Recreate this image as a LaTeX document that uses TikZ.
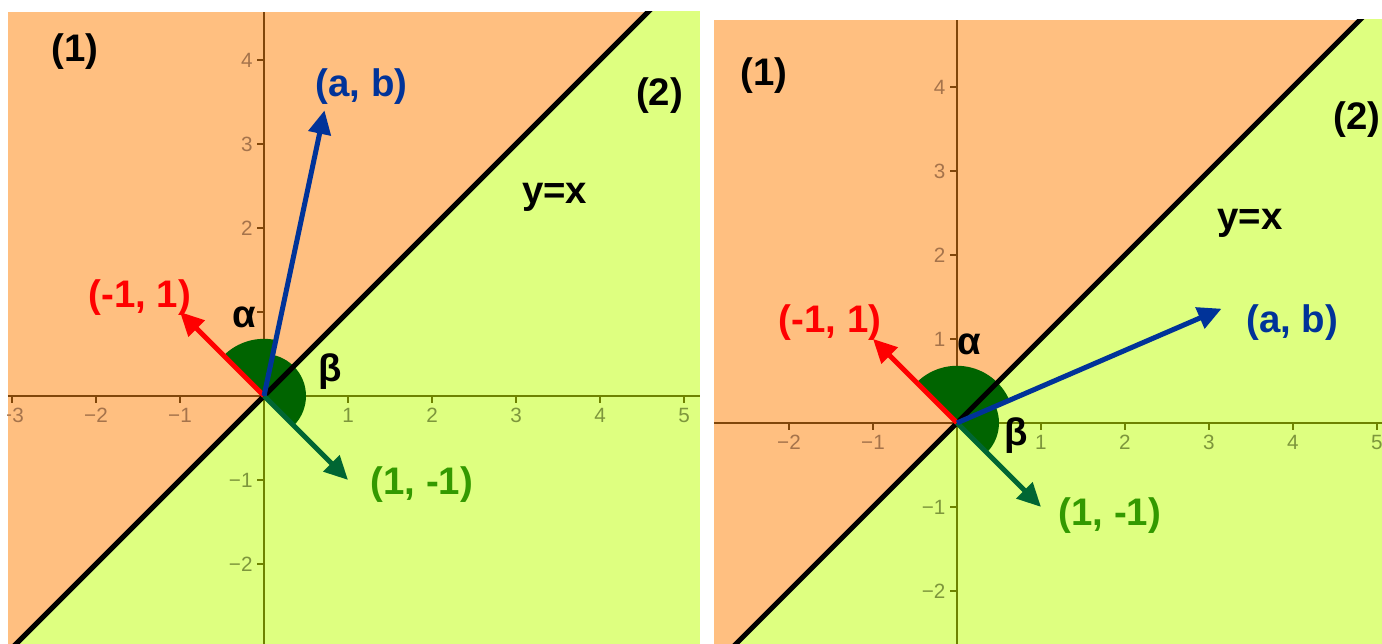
\documentclass[tikz,border=0pt]{standalone}
\usepackage{fontspec}
\setmainfont{Liberation Sans}
\usetikzlibrary{arrows.meta}

\definecolor{regionA}{RGB}{255,191,128}
\definecolor{regionB}{RGB}{222,255,128}
\definecolor{axisA}{RGB}{128,70,10}
\definecolor{axisB}{RGB}{110,130,0}
\definecolor{tickA}{RGB}{165,115,75}
\definecolor{tickB}{RGB}{125,150,60}
\definecolor{vecblue}{RGB}{0,51,153}
\definecolor{vecgreen}{RGB}{0,102,51}
\definecolor{lblgreen}{RGB}{51,153,0}
\definecolor{sectorgreen}{RGB}{0,100,0}

\tikzset{
  vec/.style={line width=1.7pt, -{Triangle[length=8pt,width=7.5pt]}},
  lbl/.style={font=\fontsize{13}{15}\selectfont\bfseries, inner sep=0pt},
  ticklbl/.style={font=\fontsize{7}{8}\selectfont, inner sep=0pt},
  sector/.style={fill=sectorgreen},
}

\begin{document}
\begin{tikzpicture}
    \useasboundingbox (-3.143,-2.952) rectangle (13.31,4.714);
    \fill[white] (-3.143,-2.952) rectangle (13.31,4.714);
    % (a) vector (a, b) in region (1)
    \begin{scope}
      \clip (-3.05,-2.96) rectangle (5.19,4.571);
      \fill[regionA] (-3.05,-2.96) rectangle (5.19,4.571);
      \fill[regionB] (-4,-4) -- (6,6) -- (6,-4) -- cycle;
      \draw[axisA, line width=0.6pt] (-3.05,0) -- (0,0) -- (0,4.571);
      \draw[axisB, line width=0.6pt] (5.19,0) -- (0,0) -- (0,-2.96);
      \foreach \x/\t in {-3/−3,-2/−2,-1/−1} {
        \draw[axisA] (\x,0) -- (\x,-0.08);
        \node[ticklbl, tickA] at (\x,-0.23) {\t};
      }
      \foreach \x in {1,...,5} {
        \draw[axisB] (\x,0) -- (\x,-0.08);
        \node[ticklbl, tickB] at (\x,-0.23) {\x};
      }
      \foreach \y in {1,...,4} \draw[axisA] (0,\y) -- (-0.08,\y);
      \foreach \y in {2,3,4} \node[ticklbl, tickA, anchor=east] at (-0.13,\y) {\y};
      \foreach \y/\t in {-1/−1,-2/−2} {
        \draw[axisB] (0,\y) -- (-0.08,\y);
        \node[ticklbl, tickB, anchor=east] at (-0.13,\y) {\t};
      }
      \coordinate (O1) at (0,0);
      \coordinate (P1) at (-1,1);
      \coordinate (Q1) at (1,-1);
      \coordinate (V1) at (0.72,3.4);
      \fill[sector] (O1) -- (78:0.68) arc (78:135:0.68) -- cycle;
      \fill[sector] (O1) -- (-45:0.5) arc (-45:78:0.5) -- cycle;
      \draw[line width=1.7pt] (-3.3,-3.3) -- (5.3,5.3);
      \draw[vec, red] (O1) -- (P1);
      \draw[vec, vecgreen] (O1) -- (Q1);
      \draw[vec, vecblue] (O1) -- (V1);
      \node[lbl, vecblue] (v1lbl) at (1.16,3.68) {(a, b)};
      \node[lbl, red] (p1lbl) at (-1.48,1.17) {(-1, 1)};
      \node[lbl, lblgreen] (q1lbl) at (1.88,-1.06) {(1, -1)};
      \node[lbl] (a1lbl) at (-0.24,0.93) {α};
      \node[lbl] (b1lbl) at (0.79,0.29) {β};
      \node[lbl] (r1lbl) at (-2.25,4.1) {(1)};
      \node[lbl] (s1lbl) at (4.71,3.58) {(2)};
      \node[lbl] (l1lbl) at (3.46,2.36) {y=x};
    \end{scope}
    % (b) vector (a, b) in region (2)
    \begin{scope}[shift={(8.25,-0.321)}]
      \clip (-2.893,-2.64) rectangle (5.07,4.798);
      \fill[regionA] (-2.893,-2.64) rectangle (5.07,4.798);
      \fill[regionB] (-4,-4) -- (6,6) -- (6,-4) -- cycle;
      \draw[axisA, line width=0.6pt] (-2.893,0) -- (0,0) -- (0,4.798);
      \draw[axisB, line width=0.6pt] (5.07,0) -- (0,0) -- (0,-2.64);
      \foreach \x/\t in {-2/−2,-1/−1} {
        \draw[axisA] (\x,0) -- (\x,-0.08);
        \node[ticklbl, tickA] at (\x,-0.23) {\t};
      }
      \foreach \x in {1,...,5} {
        \draw[axisB] (\x,0) -- (\x,-0.08);
        \node[ticklbl, tickB] at (\x,-0.23) {\x};
      }
      \foreach \y in {1,...,4} {
        \draw[axisA] (0,\y) -- (-0.08,\y);
        \node[ticklbl, tickA, anchor=east] at (-0.13,\y) {\y};
      }
      \foreach \y/\t in {-1/−1,-2/−2} {
        \draw[axisB] (0,\y) -- (-0.08,\y);
        \node[ticklbl, tickB, anchor=east] at (-0.13,\y) {\t};
      }
      \coordinate (O2) at (0,0);
      \coordinate (P2) at (-1,1);
      \coordinate (Q2) at (1,-1);
      \coordinate (V2) at (3.15,1.36);
      \fill[sector] (O2) -- (23.3:0.68) arc (23.3:135:0.68) -- cycle;
      \fill[sector] (O2) -- (-45:0.5) arc (-45:23.3:0.5) -- cycle;
      \draw[line width=1.7pt] (-3.3,-3.3) -- (5.3,5.3);
      \draw[vec, red] (O2) -- (P2);
      \draw[vec, vecgreen] (O2) -- (Q2);
      \draw[vec, vecblue] (O2) -- (V2);
      \node[lbl, vecblue] (v2lbl) at (3.99,1.2) {(a, b)};
      \node[lbl, red] (p2lbl) at (-1.51,1.2) {(-1, 1)};
      \node[lbl, lblgreen] (q2lbl) at (1.82,-1.1) {(1, -1)};
      \node[lbl] (a2lbl) at (0.15,0.93) {α};
      \node[lbl] (b2lbl) at (0.71,-0.15) {β};
      \node[lbl] (r2lbl) at (-2.3,4.14) {(1)};
      \node[lbl] (s2lbl) at (4.76,3.61) {(2)};
      \node[lbl] (l2lbl) at (3.49,2.37) {y=x};
    \end{scope}
\end{tikzpicture}
\end{document}
